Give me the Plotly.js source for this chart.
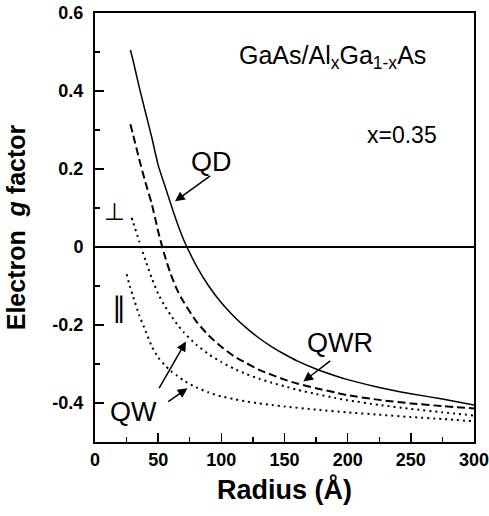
<!DOCTYPE html>
<html>
<head>
<meta charset="utf-8">
<script src="https://cdn.plot.ly/plotly-3.0.1.min.js"></script>
<style>html,body{margin:0;padding:0;background:#fff;}#chart{width:489px;height:516px;}</style>
</head>
<body>
<div id="chart"></div>
<script>
// Quantum dot (solid)
const qdRadius = [28,30,35,40,45,50,55,60,65,70,75,80,90,100,110,120,130,140,150,160,175,190,200,225,250,275,300];
const qdG = [0.505,0.48,0.41,0.345,0.28,0.21,0.16,0.11,0.062,0.02,-0.015,-0.047,-0.1,-0.143,-0.178,-0.208,-0.234,-0.256,-0.275,-0.292,-0.313,-0.33,-0.34,-0.36,-0.376,-0.39,-0.405];
// Quantum wire (dashed)
const qwrRadius = [28,30,35,40,45,50,55,60,65,70,80,90,100,110,120,130,140,150,160,175,190,200,225,250,275,300];
const qwrG = [0.315,0.29,0.225,0.165,0.11,0.04,-0.02,-0.07,-0.11,-0.14,-0.19,-0.227,-0.256,-0.28,-0.298,-0.315,-0.328,-0.34,-0.35,-0.362,-0.373,-0.38,-0.392,-0.401,-0.408,-0.414];
// Quantum well, perpendicular (dotted)
const qwPerpRadius = [29,30,35,40,45,50,55,60,65,70,80,90,100,110,120,130,140,150,160,175,190,200,225,250,275,300];
const qwPerpG = [0.075,0.065,0.015,-0.035,-0.08,-0.12,-0.15,-0.175,-0.198,-0.218,-0.25,-0.275,-0.295,-0.312,-0.326,-0.338,-0.348,-0.357,-0.366,-0.377,-0.387,-0.393,-0.405,-0.415,-0.424,-0.432];
// Quantum well, parallel (dotted)
const qwParRadius = [25,28,30,35,40,45,50,55,60,65,70,80,90,100,110,120,130,140,150,175,200,225,250,275,300];
const qwParG = [-0.07,-0.105,-0.125,-0.175,-0.215,-0.255,-0.283,-0.302,-0.318,-0.33,-0.342,-0.36,-0.373,-0.383,-0.39,-0.396,-0.401,-0.405,-0.409,-0.417,-0.424,-0.43,-0.436,-0.441,-0.447];

const xTicks = [0,50,100,150,200,250,300];
const yTicks = [-0.4,-0.2,0,0.2,0.4,0.6];
const yTickText = ['-0.4','-0.2','0','0.2','0.4','0.6'];

const FONT = '"Liberation Sans", Arial, Helvetica, sans-serif';

const traces = [
  {x: qdRadius, y: qdG, mode: 'lines', line: {color: '#000', width: 1.5, shape: 'spline', smoothing: 0.6}, name: 'QD'},
  {x: qwrRadius, y: qwrG, mode: 'lines', line: {color: '#000', width: 2, dash: '8px,4px', shape: 'spline', smoothing: 0.6}, name: 'QWR'},
  {x: qwPerpRadius, y: qwPerpG, mode: 'lines', line: {color: '#000', width: 2, dash: '2px,4px', shape: 'spline', smoothing: 0.6}, name: 'QW perp'},
  {x: qwParRadius, y: qwParG, mode: 'lines', line: {color: '#000', width: 2, dash: '2px,4px', shape: 'spline', smoothing: 0.6}, name: 'QW par'}
];

function arrow(x, y, ax, ay) {
  return {x: x, y: y, ax: ax, ay: ay, xref: 'x', yref: 'y', axref: 'x', ayref: 'y',
    text: '', showarrow: true, arrowhead: 2, arrowsize: 1.3, arrowwidth: 1.5, arrowcolor: '#000'};
}
function label(x, y, text, size, family) {
  return {x: x, y: y, xref: 'x', yref: 'y', text: text, showarrow: false,
    font: {family: family || FONT, size: size, color: '#000'}, xanchor: 'center', yanchor: 'middle'};
}

const layout = {
  width: 489, height: 516,
  margin: {l: 95, r: 15, t: 13, b: 74},
  paper_bgcolor: '#fff', plot_bgcolor: '#fff',
  showlegend: false,
  font: {family: FONT, color: '#000'},
  xaxis: {
    range: [0, 300], tickvals: xTicks, ticks: 'inside', ticklen: 9, tickwidth: 1.5, tickcolor: '#000',
    minor: {dtick: 25, tick0: 0, ticks: 'inside', ticklen: 5, tickwidth: 1.2, tickcolor: '#000'},
    showline: true, linewidth: 2, linecolor: '#000', mirror: true, showgrid: false, zeroline: false,
    ticklabeloverflow: 'allow',
    tickfont: {family: FONT, size: 18, color: '#000', weight: 'bold'},
    title: {text: '<b>Radius (Å)</b>', font: {family: FONT, size: 27, color: '#000'}, standoff: 12}
  },
  yaxis: {
    range: [-0.5, 0.6], tickvals: yTicks, ticktext: yTickText, ticks: 'inside', ticklen: 9, tickwidth: 1.5, tickcolor: '#000',
    minor: {dtick: 0.1, tick0: 0, ticks: 'inside', ticklen: 5, tickwidth: 1.2, tickcolor: '#000'},
    showline: true, linewidth: 2, linecolor: '#000', mirror: true, showgrid: false,
    zeroline: true, zerolinewidth: 2, zerolinecolor: '#000',
    ticklabeloverflow: 'allow',
    tickfont: {family: FONT, size: 18, color: '#000', weight: 'bold'},
    ticklabelstandoff: 6,
    title: {text: '<b>Electron  <i>g</i> factor</b>', font: {family: FONT, size: 25, color: '#000'}, standoff: 20}
  },
  annotations: [
    label(188, 0.486, 'GaAs/Al<sub>x</sub>Ga<sub>1-x</sub>As', 25),
    label(243, 0.286, 'x=0.35', 23),
    label(92.6, 0.219, 'QD', 27),
    arrow(63.3, 0.117, 92.4, 0.185),
    label(194, -0.247, 'QWR', 27),
    arrow(164.9, -0.345, 187.4, -0.289),
    label(30.1, -0.422, 'QW', 27),
    arrow(72, -0.242, 50.1, -0.366),
    arrow(73.2, -0.362, 56.8, -0.399),
    label(15.8, 0.091, '⊥', 24, '"DejaVu Sans", sans-serif'),
    label(18.6, -0.155, '∥', 28, '"DejaVu Sans", sans-serif')
  ]
};

Plotly.newPlot('chart', traces, layout, {staticPlot: true, displayModeBar: false});
</script>
</body>
</html>
